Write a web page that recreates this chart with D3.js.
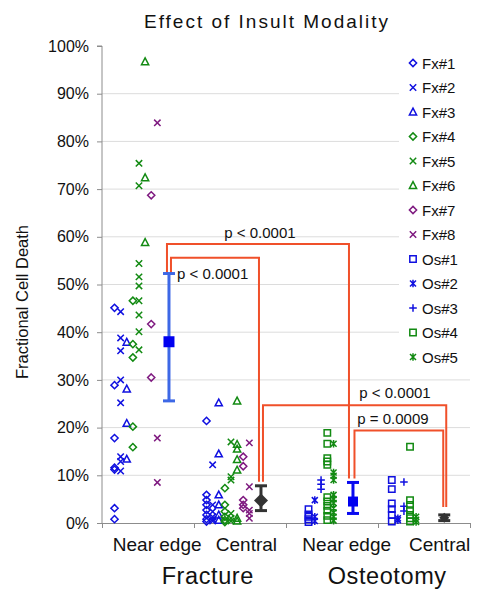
<!DOCTYPE html>
<html>
<head>
<meta charset="utf-8">
<script src="https://cdn.jsdelivr.net/npm/d3@7"></script>
<style>
  html, body { margin: 0; padding: 0; background: #fff; }
  svg { display: block; font-family: "Liberation Sans", Arial, Helvetica, sans-serif; }
</style>
</head>
<body>
<svg id="chart" width="490" height="599"></svg>
<script>
// ---------------- DATA ----------------
const categories = ["Near edge", "Central", "Near edge", "Central"];
const groups = ["Fracture", "Osteotomy"];
const yTicks = [0, 10, 20, 30, 40, 50, 60, 70, 80, 90, 100];

const seriesNames = ["Fx#1","Fx#2","Fx#3","Fx#4","Fx#5","Fx#6","Fx#7","Fx#8","Os#1","Os#2","Os#3","Os#4","Os#5"];

// Fracture, near edge (% cell death)
const fx1Near = [45.1, 28.9, 17.8, 11.6, 11.2, 3.1, 0.8];
const fx2Near = [44.3, 38.8, 36.1, 30.0, 25.2, 13.9, 12.9, 10.9];
const fx3Near = [37.9, 28.1, 20.9, 13.4];
const fx4Near = [46.6, 37.5, 34.7, 20.2, 15.9];
const fx5Near = [75.4, 70.7, 54.4, 51.6, 49.7, 46.6, 43.6, 40.1, 36.3];
const fx6Near = [96.7, 72.4, 58.8];
const fx7Near = [68.7, 41.7, 30.5];
const fx8Near = [83.9, 17.8, 8.5];
// Fracture, central
const fx1Central = [21.4, 5.9, 4.8, 3.8, 2.7, 1.7, 0.8, 0.3];
const fx2Central = [12.2, 3.8, 2.4, 1.3, 0.8, 0.4];
const fx3Central = [25.2, 14.5, 5.9, 3.8, 1.7, 0.6];
const fx4Central = [7.3, 3.8, 2.4, 1.3, 0.6, 0.2];
const fx5Central = [17.0, 9.7, 9.0, 2.0, 1.0, 0.4];
const fx6Central = [25.6, 16.5, 15.5, 13.3, 11.1, 1.0, 0.4];
const fx7Central = [13.9, 11.9, 4.8, 3.8, 3.1];
const fx8Central = [16.8, 7.6, 2.7, 2.0, 1.0];
// Osteotomy, near edge
const os1Near = [2.9, 1.8, 1.3, 0.8, 0.2];
const os2Near = [4.8, 1.3, 0.4];
const os3Near = [9.0, 8.1, 7.1];
const os4Near = [18.9, 16.6, 13.6, 12.9, 12.2, 5.4, 4.5, 3.6, 2.6, 1.5, 0.6];
const os5Near = [16.6, 10.6, 9.9, 9.0, 5.9, 5.0, 4.2, 3.1, 2.2, 1.3, 0.5];
// Osteotomy, central
const os1Central = [9.0, 7.1, 4.1, 2.9, 1.7, 0.3];
const os2Central = [1.0, 0.6];
const os3Central = [8.6, 3.5, 2.5];
const os4Central = [16.0, 4.8, 3.8, 2.7, 1.7, 1.0, 0.3];
const os5Central = [1.3, 0.7, 0.2];

// Group means with error bars (low / high)
const meanValues = [38.0, 4.7, 4.5, 1.1];
const errLow     = [25.6, 2.6, 2.0, 0.5];
const errHigh    = [52.3, 7.8, 8.5, 1.7];

// Significance brackets
const bracketFrom   = [0, 0, 1, 2];
const bracketTo     = [2, 1, 3, 3];
const bracketLevel  = [58.5, 55.6, 24.7, 19.4];
const bracketLabels = ["p < 0.0001", "p < 0.0001", "p < 0.0001", "p = 0.0009"];

// ---------------- LAYOUT / STYLE ----------------
const blue = "#1010e0", green = "#128a12", purple = "#7f1a80";
const seriesColor = [blue, blue, blue, green, green, green, purple, purple, blue, blue, blue, green, green];
const seriesShape = ["diamond","cross","triangle","diamond","cross","triangle","diamond","cross","square","asterisk","plus","square","asterisk"];
const nearValues = [fx1Near, fx2Near, fx3Near, fx4Near, fx5Near, fx6Near, fx7Near, fx8Near, os1Near, os2Near, os3Near, os4Near, os5Near];
const centralValues = [fx1Central, fx2Central, fx3Central, fx4Central, fx5Central, fx6Central, fx7Central, fx8Central, os1Central, os2Central, os3Central, os4Central, os5Central];

const svg = d3.select("#chart");
const W = 490, H = 599;
const plot = { left: 102, right: 470, top: 46, bottom: 523 };

const x = d3.scaleLinear().domain([0, 4]).range([plot.left, plot.right]);
const y = d3.scaleLinear().domain([0, 100]).range([plot.bottom, plot.top]);

// column placement within each category (category units)
const colStart = [0.136, 0.136, 0.245, 0.150];
const colStep  = [0.0665, 0.0665, 0.068, 0.066];
const barOffset = [0.728, 0.728, 0.728, 0.720];

function shapePath(s) {
  switch (s) {
    case "diamond":  return "M0,-3.6L3.6,0L0,3.6L-3.6,0Z";
    case "cross":    return "M-3.2,-3.2L3.2,3.2M-3.2,3.2L3.2,-3.2";
    case "triangle": return "M0,-3.8L3.6,3L-3.6,3Z";
    case "square":   return "M-3.2,-3.2H3.2V3.2H-3.2Z";
    case "asterisk": return "M-3,-3L3,3M-3,3L3,-3M0,-3.8L0,3.8";
    case "plus":     return "M-3.8,0L3.8,0M0,-3.8L0,3.8";
  }
}

// gridlines
svg.append("g").selectAll("line")
  .data(yTicks.filter(t => t > 0 && t < 100))
  .join("line")
  .attr("x1", plot.left).attr("x2", plot.right)
  .attr("y1", d => y(d)).attr("y2", d => y(d))
  .attr("stroke", "#dcdcdc").attr("stroke-width", 1);

// y axis
const yAxis = d3.axisLeft(y).tickValues(yTicks).tickFormat(d => d + "%").tickSize(5).tickPadding(8);
const gy = svg.append("g").attr("transform", `translate(${plot.left},0)`).call(yAxis);
gy.select(".domain").attr("stroke", "#8c8c8c").attr("d", `M-5,${y(100)}H0V${y(0)}`);
gy.selectAll(".tick line").attr("stroke", "#8c8c8c");
gy.selectAll("text").attr("font-size", 16).attr("fill", "#111").attr("font-family", "Liberation Sans, Arial, sans-serif");

// x axis (category boundaries)
const gx = svg.append("g").attr("transform", `translate(0,${plot.bottom})`)
  .call(d3.axisBottom(x).tickValues([0, 1, 2, 3, 4]).tickFormat("").tickSize(5).tickSizeOuter(0));
gx.select(".domain").attr("stroke", "#8c8c8c");
gx.selectAll(".tick line").attr("stroke", "#8c8c8c");

// category labels
const catLabelShift = [0.10, 0.07, 0.16, 0.17];
svg.append("g").selectAll("text").data(categories).join("text")
  .attr("x", (d, i) => x(i + 0.5 + catLabelShift[i]))
  .attr("y", 551)
  .attr("text-anchor", "middle").attr("font-size", 19).attr("fill", "#111")
  .text(d => d);

// group labels
const groupCenter = [1.15, 3.1];
svg.append("g").selectAll("text").data(groups).join("text")
  .attr("x", (d, i) => x(groupCenter[i]))
  .attr("y", 584)
  .attr("text-anchor", "middle").attr("font-size", 23.5).attr("letter-spacing", 0.6).attr("fill", "#111")
  .text(d => d);

// title
svg.append("text").attr("x", 267).attr("y", 28)
  .attr("text-anchor", "middle").attr("font-size", 19).attr("letter-spacing", 2).attr("fill", "#111")
  .text("Effect of Insult Modality");

// y title
svg.append("text").attr("transform", "translate(28,302) rotate(-90)")
  .attr("text-anchor", "middle").attr("font-size", 16.5).attr("fill", "#111")
  .text("Fractional Cell Death");

// scatter points
const points = [];
seriesNames.forEach((name, s) => {
  const isFx = s < 8;
  const k = isFx ? s : s - 8;
  const cats = isFx ? [0, 1] : [2, 3];
  [nearValues[s], centralValues[s]].forEach((vals, j) => {
    const c = cats[j];
    vals.forEach(v => points.push({ s, c, v, px: x(c + colStart[c] + k * colStep[c]) }));
  });
});
svg.append("g").selectAll("path").data(points).join("path")
  .attr("transform", d => `translate(${d.px},${y(d.v)})`)
  .attr("d", d => shapePath(seriesShape[d.s]))
  .attr("fill", "none")
  .attr("stroke", d => seriesColor[d.s])
  .attr("stroke-width", 1.5);

// significance brackets
const bracketColor = "#f0502a";
const barX = i => x(i + barOffset[i]);
const sideOffset = [[-2, -4], [2, -2], [2, 2], [1.5, -1]];
const gb = svg.append("g");
bracketFrom.forEach((f, b) => {
  const t = bracketTo[b];
  const x1 = barX(f) + sideOffset[b][0], x2 = barX(t) + sideOffset[b][1];
  const yl = y(bracketLevel[b]);
  const y1 = f === 1 && b === 2 ? y(errHigh[f]) - 4 : y(errHigh[f]) - (f === 0 ? 0 : 4);
  const y2 = y(errHigh[t]) - (t === 3 ? 8 : 4);
  gb.append("path")
    .attr("d", `M${x1},${y1}V${yl}H${x2}V${y2}`)
    .attr("fill", "none").attr("stroke", bracketColor).attr("stroke-width", 2);
});
// bracket labels
const labelPos = [
  { x: x(1.717), y: y(bracketLevel[0]) - 6, anchor: "middle" },
  { x: barX(0) + 8, y: y(errHigh[0]) + 5.5, anchor: "start" },
  { x: x(3.185), y: y(bracketLevel[2]) - 7, anchor: "middle" },
  { x: x(3.163), y: y(bracketLevel[3]) - 6.5, anchor: "middle" }
];
gb.selectAll("text").data(bracketLabels).join("text")
  .attr("x", (d, i) => labelPos[i].x).attr("y", (d, i) => labelPos[i].y)
  .attr("text-anchor", (d, i) => labelPos[i].anchor)
  .attr("font-size", 15).attr("fill", "#111")
  .text(d => d);

// error bars + means
const barColor = ["#3d68e6", "#333333", "#0a0af0", "#333333"];
const meanShape = ["square", "diamond", "square", "diamond"];
const meanFill = ["#0000f0", "#333333", "#0000f0", "#333333"];
const ge = svg.append("g");
meanValues.forEach((m, i) => {
  const cx = barX(i);
  const g = ge.append("g").attr("stroke", barColor[i]).attr("stroke-width", 3);
  g.append("line").attr("x1", cx).attr("x2", cx).attr("y1", y(errLow[i])).attr("y2", y(errHigh[i]));
  g.append("line").attr("x1", cx - 6).attr("x2", cx + 6).attr("y1", y(errLow[i])).attr("y2", y(errLow[i]));
  g.append("line").attr("x1", cx - 6).attr("x2", cx + 6).attr("y1", y(errHigh[i])).attr("y2", y(errHigh[i]));
  const sz = meanShape[i] === "square" ? (i === 0 ? 11 : 10) : (i === 1 ? 7 : 5);
  const d = meanShape[i] === "square"
    ? `M${-sz/2},${-sz/2}H${sz/2}V${sz/2}H${-sz/2}Z`
    : `M0,${-sz}L${sz},0L0,${sz}L${-sz},0Z`;
  ge.append("path").attr("transform", `translate(${cx},${y(m)})`).attr("d", d).attr("fill", meanFill[i]);
});

// legend
const lg = svg.append("g");
lg.append("rect").attr("x", 399).attr("y", 47).attr("width", 72).attr("height", 325).attr("fill", "#fff");
const rowY = i => 63 + i * 24.5;
seriesNames.forEach((n, i) => {
  lg.append("path").attr("transform", `translate(413,${rowY(i)})`)
    .attr("d", shapePath(seriesShape[i])).attr("fill", "none")
    .attr("stroke", seriesColor[i]).attr("stroke-width", 1.5);
  lg.append("text").attr("x", 422).attr("y", rowY(i) + 5.5)
    .attr("font-size", 15).attr("fill", "#111").text(n);
});
</script>
</body>
</html>
